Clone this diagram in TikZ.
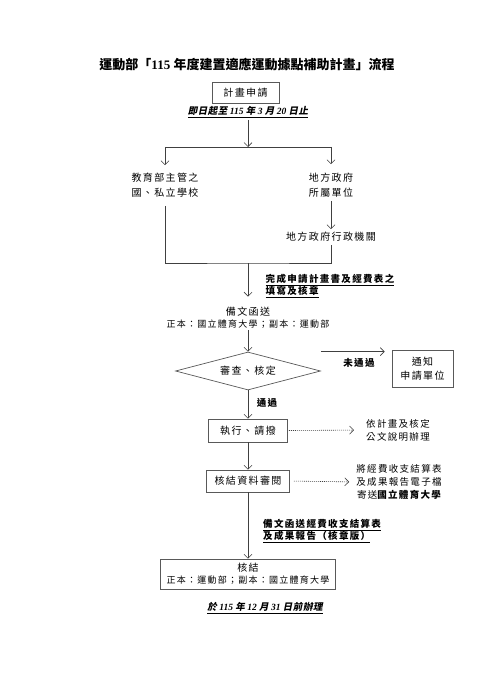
\documentclass[tikz,border=0pt]{standalone}
\usepackage{fontspec}
\usetikzlibrary{arrows.meta,shapes.geometric}
\setmainfont{Liberation Serif}
\newfontfamily\cjk[LetterSpace=14]{Noto Sans CJK TC}
\newfontfamily\cjkn{Noto Sans CJK TC}
\newfontfamily\cjki[FakeSlant=0.2,LetterSpace=6]{Noto Sans CJK TC}
\newcommand\fsz[2]{\fontsize{#1}{#2}\selectfont}
\begin{document}
\begin{tikzpicture}[x=1pt,y=-1pt,
  ln/.style={draw=black!75,line width=0.6pt},
  arr/.style={ln,-{Straight Barb[length=4pt,width=8pt]}},
  darr/.style={arr,dash pattern=on 1pt off 1pt},
  box/.style={draw=black!65,line width=0.7pt,inner sep=0pt,align=center},
  txt/.style={inner sep=0pt,align=center,font=\fsz{10}{15}\cjk},
  lbl/.style={inner sep=0pt,align=left,font=\fsz{9.5}{12}\cjk\bfseries}]
\useasboundingbox[fill=white] (0,0) rectangle (495,700);
% title
\node[inner sep=0pt] (title) at (247,65) {\fsz{13}{15}\cjkn\bfseries 運動部「{\rmfamily 115 }年度建置適應運動據點補助計畫」流程};
% apply
\node[box,minimum width=67pt,minimum height=21pt,font=\fsz{10}{12}\cjk] (apply) at (245.5,92.5) {計畫申請};
\node[inner sep=2pt] (date) at (248,112) {\fsz{9.5}{11}\underline{\cjki\bfseries 即日起至\rmfamily\itshape\ 115 \cjki 年\rmfamily\itshape\ 3 \cjki 月\rmfamily\itshape\ 20 \cjki 日止}};
\coordinate (s1) at (248,147);
\coordinate (sL) at (165,147);
\coordinate (sR) at (331,147);
\draw[arr] (date.south) -- (s1);
\draw[ln] (sL) -- (sR);
\node[txt,inner ysep=8pt] (school) at (165,185.5) {教育部主管之\\國、私立學校};
\node[txt,inner ysep=3pt] (local) at (331,185.5) {地方政府\\所屬單位};
\node[txt,inner ysep=3pt] (agency) at (331,237) {地方政府行政機關};
\draw[arr] (sL) -- (school.north);
\draw[arr,shorten >=6pt] (sR) -- (local.north);
\draw[arr] (local.south) -- (agency.north);
\coordinate (j2) at (248,263);
\draw[ln] (school.south) |- (j2) -| (agency.south);
% send
\node[lbl] (lab1) at (330,286) {\underline{完成申請計畫書及經費表之}\\\underline{填寫及核章}};
\node[txt,inner ysep=2pt] (send) at (248,317.5) {備文函送\\[-3pt]{\fsz{9}{11}\cjk 正本：國立體育大學；副本：運動部}};
\draw[arr,shorten >=8pt] (j2) -- (send.north);
% review
\node[draw=black!65,line width=0.7pt,diamond,aspect=3.8,minimum width=145pt,minimum height=38pt,inner sep=0pt,font=\fsz{10}{12}\cjk] (review) at (248,371) {審查、核定};
\draw[arr] (send.south) -- (review.north);
\node[box,minimum width=61pt,minimum height=37pt,font=\fsz{10}{14}\cjk] (notify) at (422.5,368.5) {通知\\申請單位};
\draw[arr,shorten >=7pt] (review.north -| review.east) -- (review.north -| notify.west);
\node[lbl] (lab2) at (359,363) {未通過};
% exec
\node[box,minimum width=79pt,minimum height=23pt,font=\fsz{10}{12}\cjk] (exec) at (248,430.5) {執行、請撥};
\draw[arr] (review.south) -- (exec.north);
\node[lbl] (lab3) at (267,403) {通過};
\node[txt,font=\fsz{9.5}{13}\cjk] (note1) at (398,430) {依計畫及核定\\公文說明辦理};
\draw[darr,shorten <=1pt,shorten >=12pt] (exec.east) -- (note1.west);
% check
\node[box,minimum width=83pt,minimum height=22pt,font=\fsz{10}{12}\cjk] (check) at (248,481) {核結資料審閱};
\draw[arr] (exec.south) -- (check.north);
\node[txt,font=\fsz{9.5}{13}\cjk] (note2) at (399,482) {將經費收支結算表\\及成果報告電子檔\\寄送{\bfseries 國立體育大學}};
\draw[darr,shorten <=4pt,shorten >=7pt] (check.east) -- (note2.west);
% final
\node[lbl,anchor=west] (lab4) at (263,531) {\underline{備文函送經費收支結算表}\\\underline{及成果報告（核章版）}};
\node[box,minimum width=175pt,minimum height=30pt,font=\fsz{10}{12}\cjk] (final) at (248,574) {核結\\{\fsz{9}{11}\cjk 正本：運動部；副本：國立體育大學}};
\draw[arr] (check.south) -- (final.north);
\node[inner sep=0pt] (deadline) at (265,608) {\fsz{9.5}{11}\underline{\cjki\bfseries 於\rmfamily\itshape\ 115 \cjki 年\rmfamily\itshape\ 12 \cjki 月\rmfamily\itshape\ 31 \cjki 日前辦理}};
\end{tikzpicture}
\end{document}
